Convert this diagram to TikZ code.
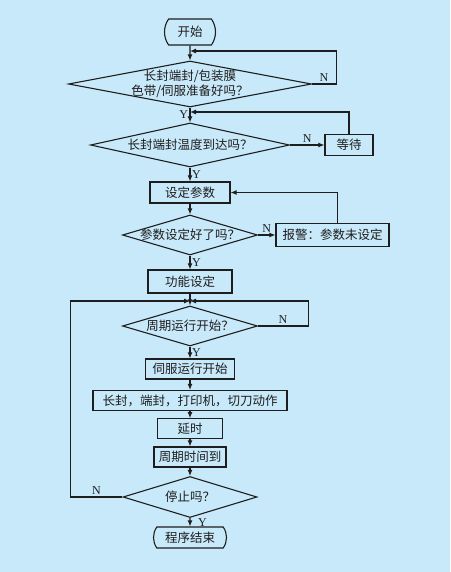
\documentclass[tikz,border=0pt]{standalone}
\usepackage{fontspec}
\setmainfont{Liberation Serif}
\newfontfamily\cjk{Noto Sans CJK SC}
\usetikzlibrary{arrows.meta,shapes.geometric,shapes.misc}
\definecolor{skybg}{HTML}{C8E9FA}
\definecolor{ink}{HTML}{1E1E1E}

\begin{document}
\begin{tikzpicture}[x=1pt,y=-1pt,line width=1.1pt,
  txt/.style={font=\cjk\fontsize{12.5}{15}\selectfont,text=ink,align=center},
  box/.style={draw=ink,rectangle,inner sep=0pt,txt},
  term/.style={draw=ink,rounded rectangle,rounded rectangle arc length=70,inner sep=0pt,txt},
  decision/.style={draw=ink,diamond,inner sep=0pt},
  lbl/.style={txt,inner sep=0pt},
  arr/.style={draw=ink,-{Latex[length=6pt,width=5pt]}},
  yn/.style={font=\fontsize{12}{12}\selectfont,text=ink,inner sep=1.5pt}]
\fill[skybg] (0,0) rectangle (450,572);
\useasboundingbox (0,0) rectangle (450,572);
% main column
\node[term,minimum width=51pt,minimum height=26pt] (start) at (190,32) {开始};
\node[decision,minimum width=243pt,minimum height=46pt,label={[lbl]center:{长封端封/包装膜\\色带/伺服准备好吗？}}] (d1) at (190,84) {};
\node[decision,minimum width=199pt,minimum height=44pt,label={[lbl]center:长封端封温度到达吗？}] (d2) at (190,145) {};
\node[box,minimum width=48pt,minimum height=21pt] (wait) at (349,145) {等待};
\node[box,minimum width=80pt,minimum height=21pt] (set) at (190,192.5) {设定参数};
\node[decision,minimum width=135pt,minimum height=40pt,label={[lbl]center:参数设定好了吗？}] (d3) at (190,235) {};
\node[box,minimum width=113pt,minimum height=23pt] (alarm) at (332.5,235) {报警：参数未设定};
\node[box,minimum width=84pt,minimum height=23pt] (func) at (190,281.5) {功能设定};
\node[decision,minimum width=135pt,minimum height=40pt,label={[lbl]center:周期运行开始？}] (d4) at (190,326) {};
\node[box,minimum width=89pt,minimum height=20pt] (servo) at (190,369) {伺服运行开始};
\node[box,minimum width=194pt,minimum height=20pt] (act) at (190,400.5) {长封，端封，打印机，切刀动作};
\node[box,minimum width=65pt,minimum height=19.5pt] (delay) at (190,428.5) {延时};
\node[box,minimum width=72pt,minimum height=20pt] (cycle) at (190,457) {周期时间到};
\node[decision,minimum width=134pt,minimum height=41pt,label={[lbl]center:停止吗？}] (d5) at (190,497) {};
\node[term,minimum width=73pt,minimum height=21pt] (stop) at (190,537.5) {程序结束};
\coordinate (j1) at (190,51);
\coordinate (j2) at (190,112);
\coordinate (j3) at (190,301);
% flow
\draw[arr] (start) -- (d1);
\draw[arr] (d1) -- node[yn,left]{Y} (d2);
\draw[arr] (d2) -- node[yn,right]{Y} (set);
\draw[arr] (set) -- (d3);
\draw[arr] (d3) -- node[yn,right]{Y} (func);
\draw[arr] (func) -- (d4);
\draw[arr] (d4) -- node[yn,right]{Y} (servo);
\draw[arr] (servo) -- (act);
\draw[arr] (act) -- (delay);
\draw[arr] (delay) -- (cycle);
\draw[arr] (cycle) -- (d5);
\draw[arr] (d5) -- node[yn,right,xshift=6pt]{Y} (stop);
% loops
\draw[arr] (d1.east) -- node[yn,above]{N} ++(24,0) |- (j1);
\draw[arr] (d2) -- node[yn,above]{N} (wait);
\draw[arr] (wait.north) |- (j2);
\draw[arr] (d3) -- node[yn,above]{N} (alarm);
\draw[arr] ([xshift=5pt]alarm.north) |- (set.east);
\draw[arr] (d4.east) -- node[yn,above]{N} ++(50,0) |- (j3);
\draw[arr] (d5.west) -- node[yn,above]{N} ++(-52,0) |- (j3);
\end{tikzpicture}
\end{document}
